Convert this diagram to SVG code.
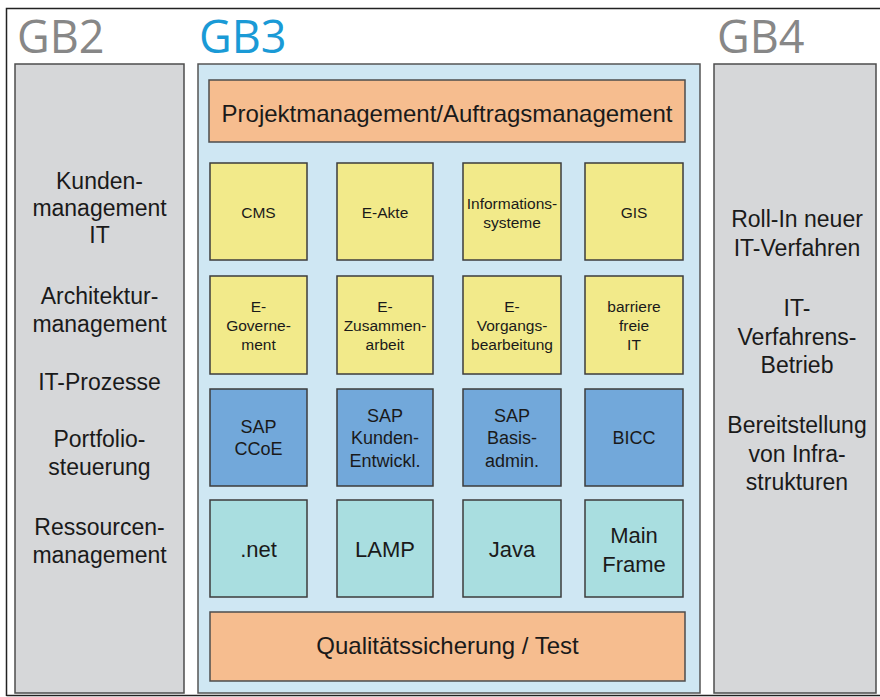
<svg xmlns="http://www.w3.org/2000/svg" width="880" height="697" viewBox="0 0 880 697">
<style>
.side{fill:#d6d7d9;stroke:#4d4d4d;stroke-width:1.5}
.main{fill:#cfe7f3;stroke:#555;stroke-width:1.5}
.bar{fill:#f6bd8f;stroke:#4d4d4d;stroke-width:1.5}
.y{fill:#f2ea8a;stroke:#3d3d3d;stroke-width:1.5}
.b{fill:#72a8da;stroke:#3d3d3d;stroke-width:1.5}
.t{fill:#a9dee0;stroke:#3d3d3d;stroke-width:1.5}
text{font-family:"Liberation Sans",Arial,sans-serif;fill:#1a1a1a;text-anchor:middle}
text.head{font-family:"Open Sans","Noto Sans",sans-serif;font-size:45px;text-anchor:start}
.grey{fill:#878787}
.blue{fill:#1a9ad6}
.s23{font-size:23px}
.s24{font-size:24px}
.s15{font-size:15.5px}
.s18{font-size:18px}
.s22{font-size:22px}
</style>
<rect x="0" y="0" width="880" height="697" fill="#ffffff"/>
<path d="M6.5 696 V8.5 H880 M6.5 695.5 H880" fill="none" stroke="#222" stroke-width="1.5"/>

<g id="gb2">
<text class="head grey" x="17" y="53">GB2</text>
<rect class="side" x="15" y="64" width="169" height="629"/>
<text class="s23" x="99.5" y="189">Kunden-</text>
<text class="s23" x="99.5" y="216">management</text>
<text class="s23" x="99.5" y="243">IT</text>
<text class="s23" x="99.5" y="304">Architektur-</text>
<text class="s23" x="99.5" y="332">management</text>
<text class="s23" x="99.5" y="390">IT-Prozesse</text>
<text class="s23" x="99.5" y="447">Portfolio-</text>
<text class="s23" x="99.5" y="475">steuerung</text>
<text class="s23" x="99.5" y="535">Ressourcen-</text>
<text class="s23" x="99.5" y="563">management</text>
</g>

<g id="gb3">
<text class="head blue" x="199" y="53">GB3</text>
<rect class="main" x="198" y="64" width="502" height="629"/>
</g>

<g id="gb4">
<text class="head grey" x="717" y="53">GB4</text>
<rect class="side" x="714" y="64" width="162" height="629"/>
<text class="s23" x="797" y="227">Roll-In neuer</text>
<text class="s23" x="797" y="256">IT-Verfahren</text>
<text class="s23" x="797" y="316">IT-</text>
<text class="s23" x="797" y="345">Verfahrens-</text>
<text class="s23" x="797" y="373">Betrieb</text>
<text class="s23" x="797" y="433">Bereitstellung</text>
<text class="s23" x="797" y="462">von Infra-</text>
<text class="s23" x="797" y="490">strukturen</text>
</g>

<g id="projekt">
<rect class="bar" x="209" y="80" width="476" height="62"/>
<text class="s24" x="447" y="122">Projektmanagement/Auftragsmanagement</text>
</g>

<g id="cms"><rect class="y" x="210" y="163" width="97" height="97"/><text class="s15" x="258.5" y="218">CMS</text></g>
<g id="eakte"><rect class="y" x="337" y="163" width="96" height="97"/><text class="s15" x="385" y="218">E-Akte</text></g>
<g id="infosys"><rect class="y" x="463" y="163" width="98" height="97"/><text class="s15" x="512" y="209">Informations-</text><text class="s15" x="512" y="228">systeme</text></g>
<g id="gis"><rect class="y" x="585" y="163" width="98" height="97"/><text class="s15" x="634" y="218">GIS</text></g>

<g id="egov"><rect class="y" x="210" y="276" width="97" height="98"/><text class="s15" x="258.5" y="312">E-</text><text class="s15" x="258.5" y="331">Governe-</text><text class="s15" x="258.5" y="350">ment</text></g>
<g id="ezus"><rect class="y" x="337" y="276" width="96" height="98"/><text class="s15" x="385" y="312">E-</text><text class="s15" x="385" y="331">Zusammen-</text><text class="s15" x="385" y="350">arbeit</text></g>
<g id="evorg"><rect class="y" x="463" y="276" width="98" height="98"/><text class="s15" x="512" y="312">E-</text><text class="s15" x="512" y="331">Vorgangs-</text><text class="s15" x="512" y="350">bearbeitung</text></g>
<g id="barr"><rect class="y" x="585" y="276" width="98" height="98"/><text class="s15" x="634" y="312">barriere</text><text class="s15" x="634" y="331">freie</text><text class="s15" x="634" y="350">IT</text></g>

<g id="sapccoe"><rect class="b" x="210" y="389" width="97" height="97"/><text class="s18" x="258.5" y="433">SAP</text><text class="s18" x="258.5" y="455">CCoE</text></g>
<g id="sapkd"><rect class="b" x="337" y="389" width="96" height="97"/><text class="s18" x="385" y="422">SAP</text><text class="s18" x="385" y="444">Kunden-</text><text class="s18" x="385" y="467">Entwickl.</text></g>
<g id="sapbasis"><rect class="b" x="463" y="389" width="98" height="97"/><text class="s18" x="512" y="422">SAP</text><text class="s18" x="512" y="444">Basis-</text><text class="s18" x="512" y="467">admin.</text></g>
<g id="bicc"><rect class="b" x="585" y="389" width="98" height="97"/><text class="s18" x="634" y="444">BICC</text></g>

<g id="net"><rect class="t" x="210" y="500" width="97" height="97"/><text class="s22" x="258.5" y="557">.net</text></g>
<g id="lamp"><rect class="t" x="337" y="500" width="96" height="97"/><text class="s22" x="385" y="557">LAMP</text></g>
<g id="java"><rect class="t" x="463" y="500" width="98" height="97"/><text class="s22" x="512" y="557">Java</text></g>
<g id="mainframe"><rect class="t" x="585" y="500" width="98" height="97"/><text class="s22" x="634" y="543">Main</text><text class="s22" x="634" y="572">Frame</text></g>

<g id="qs">
<rect class="bar" x="210" y="612" width="475" height="69"/>
<text class="s24" x="447.5" y="654">Qualitätssicherung / Test</text>
</g>
<g id="connectors"></g>
</svg>
